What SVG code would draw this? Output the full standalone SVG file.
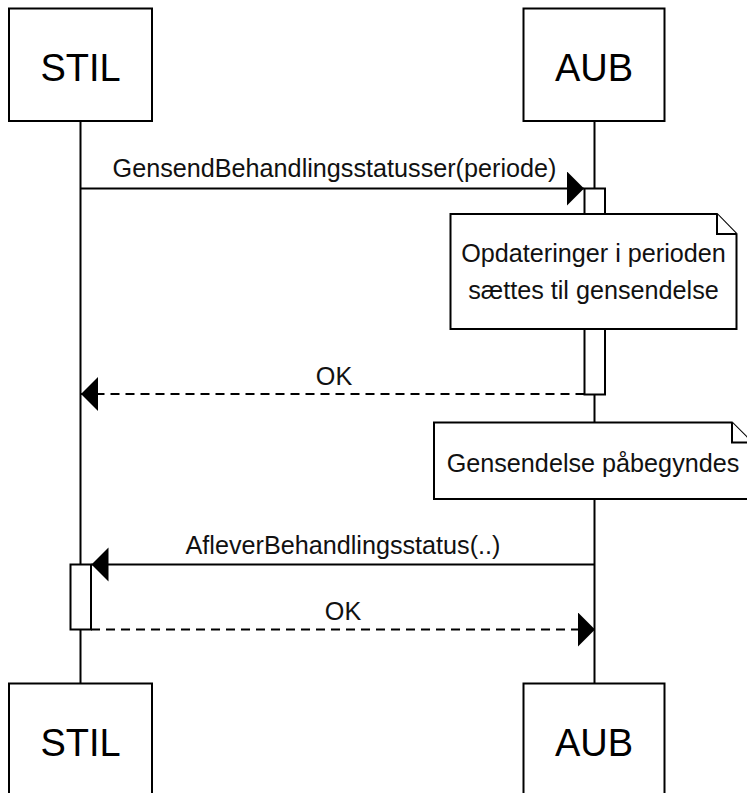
<svg xmlns="http://www.w3.org/2000/svg" width="747" height="793" viewBox="0 0 747 793">
<style>
.box{fill:#fff;stroke:#000;stroke-width:2}
.life{stroke:#000;stroke-width:2;fill:none}
.msg{stroke:#000;stroke-width:2;fill:none}
.dash{stroke-dasharray:9 6}
.big{font-family:"Liberation Sans",Arial,sans-serif;font-size:38px;fill:#000;text-anchor:middle}
.lbl{font-family:"Liberation Sans",Arial,sans-serif;font-size:25.2px;fill:#111;text-anchor:middle}
</style>
<defs>
<marker id="ah" markerUnits="userSpaceOnUse" markerWidth="18" markerHeight="36" refX="17" refY="17" orient="auto" viewBox="0 0 18 36">
<path d="M0,0 L17,17 L0,34 Z" fill="#000" stroke="none"/>
</marker>
</defs>
<g id="lifelines">
<line class="life" x1="80.5" y1="121" x2="80.5" y2="683"/>
<line class="life" x1="594.5" y1="121" x2="594.5" y2="683"/>
</g>
<g id="STIL-top">
<rect class="box" x="9" y="8.5" width="143" height="112.5"/>
<text class="big" x="80.5" y="81">STIL</text>
</g>
<g id="AUB-top">
<rect class="box" x="523.5" y="8.5" width="141" height="112.5"/>
<text class="big" x="594" y="81">AUB</text>
</g>
<g id="STIL-bottom">
<rect class="box" x="9" y="683.5" width="143" height="115"/>
<text class="big" x="80.5" y="756">STIL</text>
</g>
<g id="AUB-bottom">
<rect class="box" x="523.5" y="683.5" width="141" height="115"/>
<text class="big" x="594" y="756">AUB</text>
</g>
<g id="connectors">
<line class="msg" x1="80.5" y1="188.5" x2="584" y2="188.5" marker-end="url(#ah)"/>
<text class="lbl" x="334.5" y="177">GensendBehandlingsstatusser(periode)</text>
<line class="msg dash" x1="584.5" y1="394" x2="81" y2="394" marker-end="url(#ah)"/>
<text class="lbl" x="334" y="385">OK</text>
<line class="msg" x1="594.5" y1="564.5" x2="91.5" y2="564.5" marker-end="url(#ah)"/>
<text class="lbl" x="343" y="554">AfleverBehandlingsstatus(..)</text>
<line class="msg dash" x1="91" y1="629.5" x2="595" y2="629.5" marker-end="url(#ah)"/>
<text class="lbl" x="343" y="620">OK</text>
</g>
<g id="AUB-activation">
<rect class="box" x="584.5" y="188.5" width="20.5" height="206"/>
</g>
<g id="STIL-activation">
<rect class="box" x="70.5" y="564.5" width="20.5" height="65"/>
</g>
<g id="note1">
<path class="box" d="M450.5,214 L717,214 L736.5,234 L736.5,329 L450.5,329 Z"/>
<path class="box" d="M717,214 L717,234 L736.5,234" fill="none"/>
<text class="lbl" x="593.5" y="262">Opdateringer i perioden</text>
<text class="lbl" x="593.5" y="298.5">sættes til gensendelse</text>
</g>
<g id="note2">
<path class="box" d="M434,422.5 L732,422.5 L752,442.5 L752,499 L434,499 Z"/>
<path class="box" d="M732,422.5 L732,442.5 L752,442.5" fill="none"/>
<text class="lbl" x="593" y="471.5">Gensendelse påbegyndes</text>
</g>
</svg>
